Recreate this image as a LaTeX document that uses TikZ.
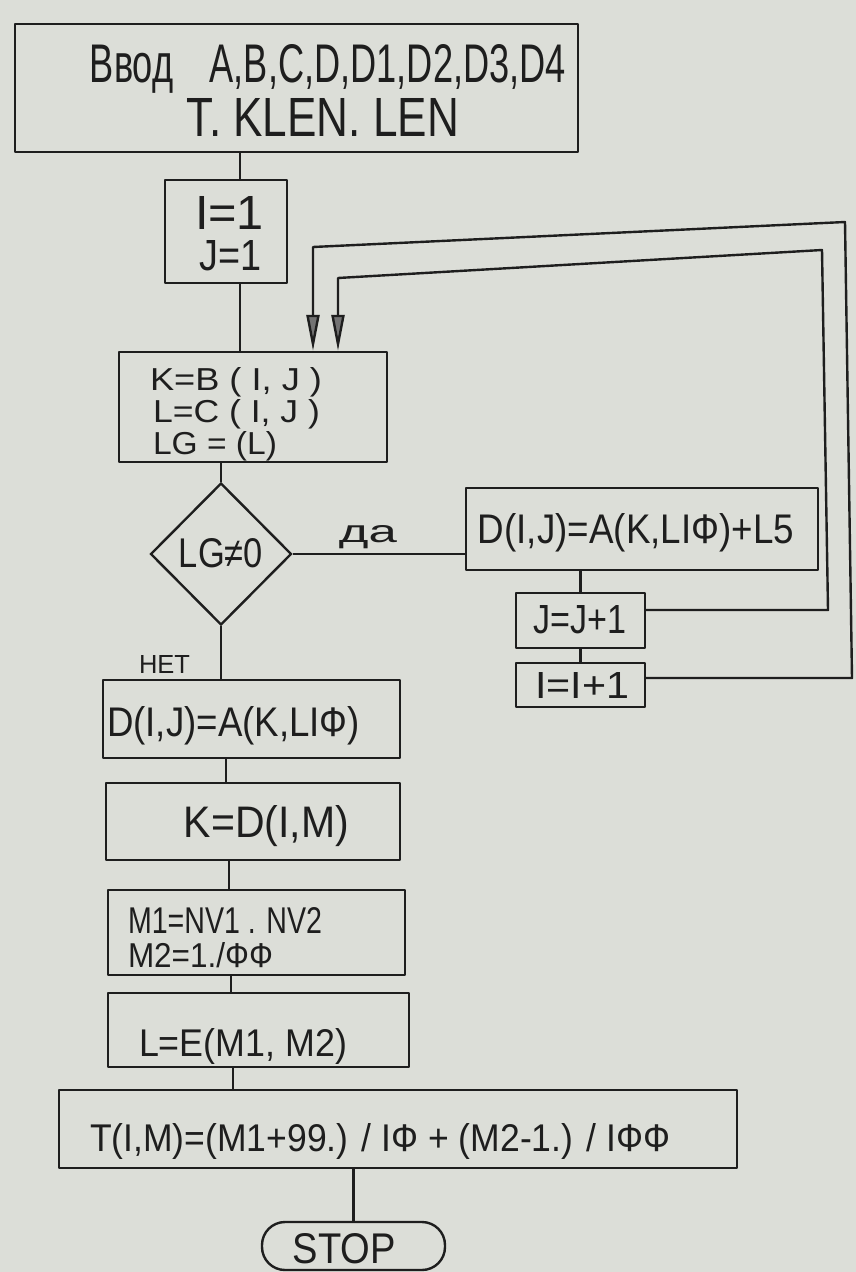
\documentclass[tikz,border=0pt]{standalone}
\usepackage{fontspec}
\usepackage{graphicx}
\setmainfont{Liberation Sans}
\usetikzlibrary{shapes.geometric,arrows.meta,calc}
\definecolor{paper}{RGB}{220,222,216}
\definecolor{ink}{RGB}{30,30,30}
\newcommand\tb[3]{\resizebox{#1pt}{#2pt}{#3}}
\tikzset{
  box/.style={draw=ink, line width=2.4pt, rectangle, inner sep=0pt, line join=round},
  txt/.style={inner sep=0pt, outer sep=0pt, text=ink, anchor=base},
  txtl/.style={inner sep=0pt, outer sep=0pt, text=ink, anchor=base west},
  conn/.style={draw=ink, line width=2.4pt, line join=round},
  loopline/.style={draw=ink, line width=2.4pt, line join=round,
    -{Triangle[length=36pt,width=13pt,fill=black!55]}}
}
\begin{document}
\begin{tikzpicture}[x=1pt,y=-1pt]
\fill[paper] (0,0) rectangle (856,1272);
\useasboundingbox (0,0) rectangle (856,1272);

% boxes
\node[box, minimum width=563pt, minimum height=128pt] (top) at (296.5,88) {};
\node[box, minimum width=122pt, minimum height=103pt] (ibox) at (226,231.5) {};
\node[box, minimum width=268pt, minimum height=110pt] (kbox) at (253,407) {};
\node[draw=ink, line width=2.4pt, diamond, inner sep=0pt, minimum width=141pt, minimum height=142pt] (dia) at (221,554) {};
\node[box, minimum width=352pt, minimum height=82pt] (dbox) at (642,529) {};
\node[box, minimum width=129pt, minimum height=55pt] (jbox) at (580.5,620.5) {};
\node[box, minimum width=129pt, minimum height=44pt] (i2) at (580.5,685) {};
\node[box, minimum width=297pt, minimum height=78pt] (d2) at (251.5,719) {};
\node[box, minimum width=294pt, minimum height=77pt] (k2) at (253,821.5) {};
\node[box, minimum width=297pt, minimum height=85pt] (mbox) at (256.5,932.5) {};
\node[box, minimum width=301pt, minimum height=74pt] (lbox) at (258.5,1030) {};
\node[box, minimum width=678pt, minimum height=78pt] (tbox) at (398,1129) {};
\node[box, rounded corners=23pt, minimum width=183pt, minimum height=48pt] (stop) at (353.5,1246) {};

% texts
\node[txt] (t1) at (328,82) {\tb{476}{38}{Ввод\quad A,B,C,D,D1,D2,D3,D4}};
\node[txt] (t2) at (323,136) {\tb{272}{38}{T. KLEN. LEN}};
\node[txt] (t3) at (229.5,229.5) {\tb{69}{33}{I=1}};
\node[txt] (t4) at (231,270) {\tb{62}{30}{J=1}};
\node[txtl] (t5) at (150,390) {\tb{172}{23}{K=B ( I, J )}};
\node[txtl] (t6) at (153,422) {\tb{167}{23}{L=C ( I, J )}};
\node[txtl] (t7) at (153,454) {\tb{124}{23}{LG = (L)}};
\node[txt] (t8) at (221,567.5) {\tb{84}{29}{LG≠0}};
\node[txt] (t9) at (368,542) {\tb{58}{17}{да}};
\node[txt] (t10) at (636,543) {\tb{316}{30}{D(I,J)=A(K,LIФ)+L5}};
\node[txt] (t11) at (580,633) {\tb{93}{28}{J=J+1}};
\node[txt] (t12) at (582,698) {\tb{94}{26}{I=I+1}};
\node[txt] (t13) at (164.5,673) {\tb{51}{18}{НЕТ}};
\node[txtl] (t14) at (107,736) {\tb{253}{30}{D(I,J)=A(K,LIФ)}};
\node[txt] (t15) at (266.5,837) {\tb{165}{32}{K=D(I,M)}};
\node[txtl] (t16) at (128,933) {\tb{194}{26}{M1=NV1 . NV2}};
\node[txtl] (t17) at (128,967.5) {\tb{145}{25}{M2=1./ФФ}};
\node[txtl] (t18) at (139,1056) {\tb{208}{28}{L=E(M1, M2)}};
\node[txtl] (t19) at (90,1151) {\tb{580}{28}{T(I,M)=(M1+99.) / IФ + (M2-1.) / IФФ}};
\node[txt] (t20) at (344.5,1263) {\tb{103}{30}{STOP}};

% connectors
\coordinate (a1) at ([xshift=14pt]ibox.north);
\draw[conn] (a1) -- (a1 |- top.south);
\coordinate (a2) at ([xshift=14pt]ibox.south);
\draw[conn] (a2) -- (a2 |- kbox.north);
\draw[conn] (dia.north) -- (dia.north |- kbox.south);
\draw[conn] (dia.south) -- (dia.south |- d2.north);
\draw[conn] (dia.east) -- (dia.east -| dbox.west);
\draw[conn] (jbox.north) -- (jbox.north |- dbox.south);
\draw[conn] (jbox.south) -- (i2.north);
\coordinate (a4) at ([xshift=-25.5pt]d2.south);
\draw[conn] (a4) -- (a4 |- k2.north);
\coordinate (a5) at ([xshift=-24pt]k2.south);
\draw[conn] (a5) -- (a5 |- mbox.north);
\coordinate (a6) at ([xshift=-25.5pt]mbox.south);
\draw[conn] (a6) -- (a6 |- lbox.north);
\coordinate (a7) at ([xshift=-25.5pt]lbox.south);
\draw[conn] (a7) -- (a7 |- tbox.north);
\draw[conn] (stop.north) -- (stop.north |- tbox.south);

% loops
\coordinate (j1) at (828,610);
\coordinate (j2) at (822,250);
\coordinate (j3) at (338,278);
\draw[loopline] ([yshift=10.5pt]jbox.east) -- (j1) -- (j2) -- (j3) -- (j3 |- kbox.north);
\coordinate (o1) at (852,678);
\coordinate (o2) at (845,222);
\coordinate (o3) at (313,247);
\draw[loopline] ([yshift=7pt]i2.east) -- (o1) -- (o2) -- (o3) -- (o3 |- kbox.north);
\end{tikzpicture}
\end{document}
